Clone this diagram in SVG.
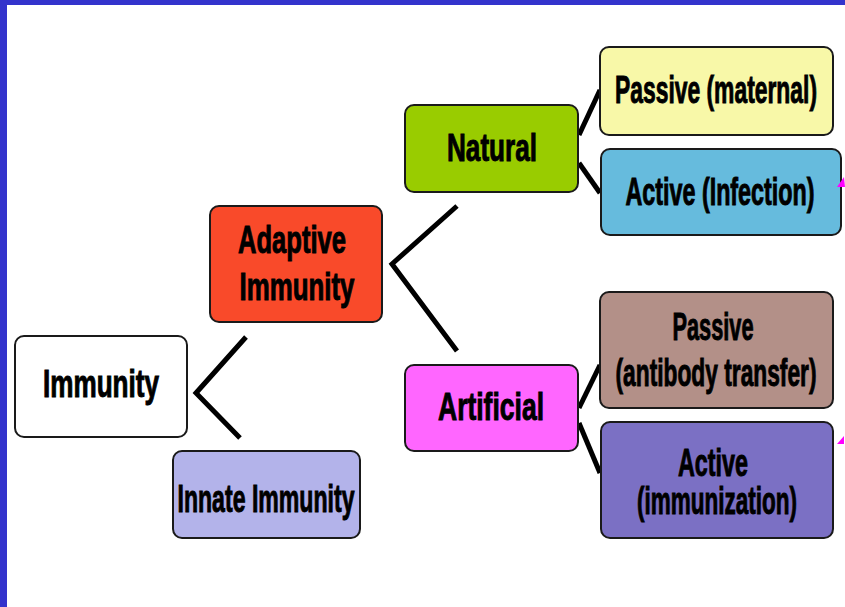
<svg xmlns="http://www.w3.org/2000/svg" width="845" height="607" viewBox="0 0 845 607">
<style>
.box{stroke:#1a1a1a;stroke-width:2}
.t{font-family:"Liberation Sans",Arial,sans-serif;font-weight:bold;font-size:39px;fill:#000;stroke:#000;stroke-width:1;text-anchor:middle}
.c{stroke:#000;stroke-width:5;fill:none;stroke-linecap:butt;stroke-linejoin:miter}
</style>
<rect x="0" y="0" width="845" height="607" fill="#fff"/>
<rect x="0" y="0" width="845" height="5" fill="#3333cc"/>
<rect x="0" y="0" width="7" height="607" fill="#3333cc"/>
<g id="connectors">
<polyline class="c" points="246,337 196,393 240,438"/>
<polyline class="c" points="457,206 392,264 457,351"/>
<line class="c" x1="579" y1="135" x2="600" y2="90"/>
<line class="c" x1="579" y1="163" x2="600" y2="193"/>
<line class="c" x1="579" y1="408" x2="600" y2="365"/>
<line class="c" x1="579" y1="423" x2="600" y2="473"/>
</g>
<g id="immunity">
<rect class="box" x="15" y="336" width="172" height="101" rx="9" fill="#fff"/>
<text class="t" x="101" y="397" textLength="116" lengthAdjust="spacingAndGlyphs">Immunity</text>
</g>
<g id="innate">
<rect class="box" x="173" y="451" width="187" height="87" rx="9" fill="#b3b3ea"/>
<text class="t" x="266" y="512" textLength="177" lengthAdjust="spacingAndGlyphs">Innate Immunity</text>
</g>
<g id="adaptive">
<rect class="box" x="210" y="206" width="172" height="116" rx="9" fill="#f94a2a"/>
<text class="t" x="292" y="253" textLength="108" lengthAdjust="spacingAndGlyphs">Adaptive</text>
<text class="t" x="297" y="300" textLength="115" lengthAdjust="spacingAndGlyphs">Immunity</text>
</g>
<g id="natural">
<rect class="box" x="405" y="105" width="173" height="87" rx="9" fill="#99cc00"/>
<text class="t" x="492" y="161" textLength="90" lengthAdjust="spacingAndGlyphs">Natural</text>
</g>
<g id="artificial">
<rect class="box" x="405" y="365" width="173" height="86" rx="9" fill="#ff66ff"/>
<text class="t" x="491" y="420" textLength="106" lengthAdjust="spacingAndGlyphs">Artificial</text>
</g>
<g id="passive-maternal">
<rect class="box" x="600" y="47" width="233" height="88" rx="9" fill="#f8f8a8"/>
<text class="t" x="716" y="103" textLength="202" lengthAdjust="spacingAndGlyphs">Passive (maternal)</text>
</g>
<g id="active-infection">
<rect class="box" x="601" y="149" width="240" height="86" rx="9" fill="#66bbdd"/>
<text class="t" x="720" y="205" textLength="189" lengthAdjust="spacingAndGlyphs">Active (Infection)</text>
</g>
<g id="passive-antibody">
<rect class="box" x="600" y="292" width="233" height="116" rx="9" fill="#b39088"/>
<text class="t" x="713" y="340" textLength="81" lengthAdjust="spacingAndGlyphs">Passive</text>
<text class="t" x="716" y="386" textLength="201" lengthAdjust="spacingAndGlyphs">(antibody transfer)</text>
</g>
<g id="active-immunization">
<rect class="box" x="601" y="422" width="232" height="116" rx="9" fill="#7b70c4"/>
<text class="t" x="713" y="476" textLength="70" lengthAdjust="spacingAndGlyphs">Active</text>
<text class="t" x="717" y="514" textLength="160" lengthAdjust="spacingAndGlyphs">(immunization)</text>
</g>
<polygon points="844,177 845,187 837,187" fill="#ff00ff"/>
<polygon points="844,436 844,444 837,444" fill="#ff00ff"/>
</svg>
